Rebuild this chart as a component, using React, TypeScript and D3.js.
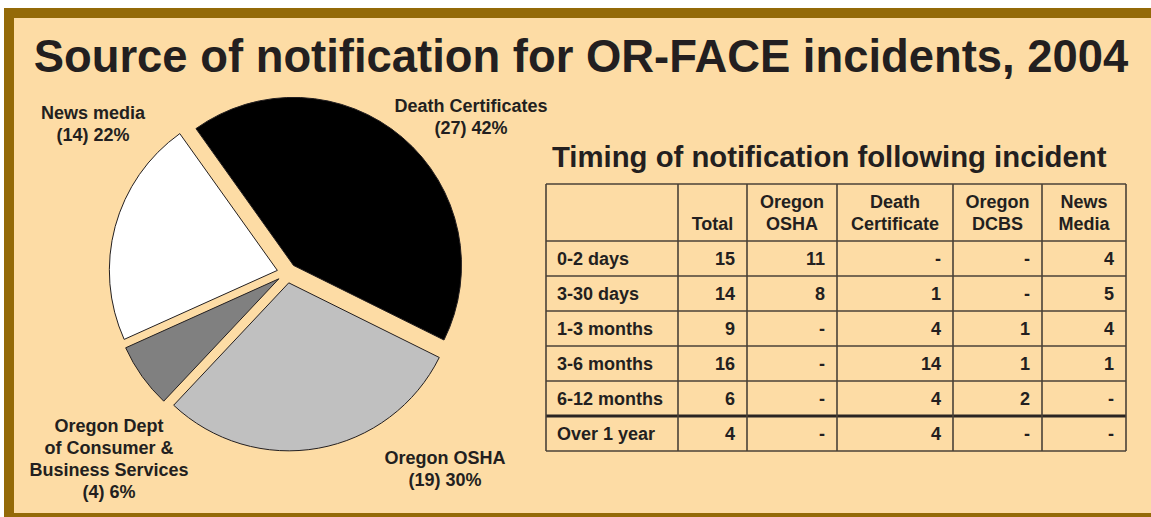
import React from "react";
import * as d3 from "d3";

const TITLE = "Source of notification for OR-FACE incidents, 2004";
const TABLE_TITLE = "Timing of notification following incident";

const sources = ["Death Certificates", "Oregon OSHA", "Oregon Dept of Consumer & Business Services", "News media"];
const sourceCounts = [27, 19, 4, 14];
const sourcePcts = [42, 30, 6, 22];
const sourceLabelLines = [
  ["Death Certificates"],
  ["Oregon OSHA"],
  ["Oregon Dept", "of Consumer &", "Business Services"],
  ["News media"],
];
const sliceColors = ["#000000", "#C0C0C0", "#808080", "#FFFFFF"];

const tableHeaders = [[""], ["Total"], ["Oregon", "OSHA"], ["Death", "Certificate"], ["Oregon", "DCBS"], ["News", "Media"]];
const timingRows = ["0-2 days", "3-30 days", "1-3 months", "3-6 months", "6-12 months", "Over 1 year"];
const totalCol = [15, 14, 9, 16, 6, 4];
const oshaCol = [11, 8, null, null, null, null];
const deathCol = [null, 1, 4, 14, 4, 4];
const dcbsCol = [null, null, 1, 1, 2, null];
const newsCol = [4, 5, 4, 1, null, null];

const W = 1151, H = 517;
const FONT = "'Liberation Sans', Arial, Helvetica, sans-serif";
const TXT = "#231F20";
const BG = "#FDDCA5";
const FRAME = "#946A08";

export default function App() {
  // Pie
  const cx = 287, cy = 273, R = 168, explode = 10;
  const startDeg = -35.5;
  const pie = d3.pie<number>().sort(null)
    .startAngle((startDeg * Math.PI) / 180)
    .endAngle(((startDeg + 360) * Math.PI) / 180);
  const arcs = pie(sourceCounts);
  const arcGen = d3.arc<d3.PieArcDatum<number>>().innerRadius(0).outerRadius(R);
  // label anchor offsets relative to pie centre (first-line baseline)
  const labelPos = [
    [184, -161],
    [158, 191],
    [-178, 159],
    [-194, -154],
  ];

  // Table
  const colEdges = [546, 678, 747, 837, 953, 1042, 1126];
  const rowTop = 184, headerBottom = 241, rowH = 35;
  const cols = [totalCol, oshaCol, deathCol, dcbsCol, newsCol];
  const yRow = d3.scaleBand<number>().domain(d3.range(timingRows.length)).range([headerBottom, headerBottom + rowH * timingRows.length]).padding(0);
  const tableBottom = headerBottom + rowH * timingRows.length;
  const lineC = "#4A4238";

  return (
    <svg width={W} height={H} style={{ position: "absolute", left: 0, top: 0 }} fontFamily={FONT}>
      <rect x={0} y={0} width={W} height={H} fill="#FFFFFF" />
      <rect x={4} y={8} width={W} height={H} fill={FRAME} />
      <rect x={14} y={18} width={W} height={513 - 18} fill={BG} />
      <text x={581} y={72} textAnchor="middle" fontSize={45.4} fontWeight="bold" fill={TXT}>{TITLE}</text>

      <g>
        {arcs.map((a, i) => {
          const mid = (a.startAngle + a.endAngle) / 2;
          const dx = Math.sin(mid) * explode, dy = -Math.cos(mid) * explode;
          return (
            <path key={i} d={arcGen(a) || ""} transform={`translate(${cx + dx},${cy + dy})`}
              fill={sliceColors[i]} stroke={TXT} strokeWidth={1} strokeLinejoin="miter" />
          );
        })}
        {sources.map((s, i) => {
          const lines = [...sourceLabelLines[i], `(${sourceCounts[i]}) ${sourcePcts[i]}%`];
          return (
            <text key={s} x={cx + labelPos[i][0]} y={cy + labelPos[i][1]} textAnchor="middle" fontSize={18} fontWeight="bold" fill={TXT}>
              {lines.map((l, j) => (
                <tspan key={j} x={cx + labelPos[i][0]} dy={j === 0 ? 0 : 22}>{l}</tspan>
              ))}
            </text>
          );
        })}
      </g>

      <text x={552} y={167} fontSize={29.3} fontWeight="bold" fill={TXT}>{TABLE_TITLE}</text>

      <g>
        {tableHeaders.map((h, c) => {
          const mid = (colEdges[c] + colEdges[c + 1]) / 2;
          return (
            <text key={c} textAnchor="middle" fontSize={18} fontWeight="bold" fill={TXT}>
              {h.map((l, j) => (
                <tspan key={j} x={mid} y={230 - (h.length - 1 - j) * 22}>{l}</tspan>
              ))}
            </text>
          );
        })}
        {timingRows.map((r, i) => {
          const yb = (yRow(i) as number) + rowH / 2 + 6.5;
          return (
            <g key={r}>
              <text x={colEdges[0] + 11} y={yb} fontSize={18} fontWeight="bold" fill={TXT}>{r}</text>
              {cols.map((col, c) => (
                <text key={c} x={colEdges[c + 2] - 12} y={yb} textAnchor="end" fontSize={18} fontWeight="bold" fill={TXT}>
                  {col[i] == null ? "-" : String(col[i])}
                </text>
              ))}
            </g>
          );
        })}
        {[rowTop, ...timingRows.map((_, i) => yRow(i) as number), tableBottom].map((y, i) => (
          <line key={"h" + i} x1={colEdges[0]} x2={colEdges[colEdges.length - 1]} y1={y} y2={y}
            stroke={i === 6 ? "#2A2522" : lineC} strokeWidth={i === 6 ? 3 : 1.6} />
        ))}
        {colEdges.map((x, i) => (
          <line key={"v" + i} x1={x} x2={x} y1={rowTop} y2={tableBottom} stroke={lineC} strokeWidth={1.6} />
        ))}
      </g>
    </svg>
  );
}
